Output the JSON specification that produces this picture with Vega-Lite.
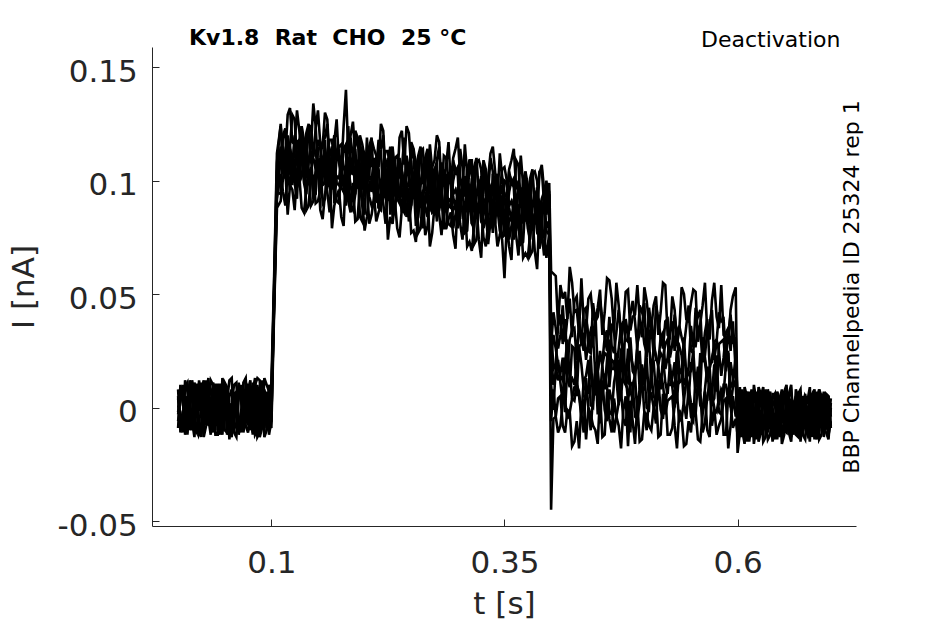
{
  "$schema": "https://vega.github.io/schema/vega-lite/v6.json",
  "width": 704,
  "height": 479,
  "autosize": {"type": "none"},
  "padding": {"left": 152, "top": 47, "right": 89, "bottom": 98},
  "background": "white",
  "title": {
    "text": "Kv1.8\u00a0 Rat\u00a0 CHO\u00a0 25 °C",
    "anchor": "start",
    "frame": "group",
    "dx": 37,
    "offset": -38,
    "baseline": "alphabetic",
    "font": "DejaVu Sans",
    "fontSize": 22,
    "fontWeight": "bold",
    "color": "black"
  },
  "config": {
    "font": "DejaVu Sans",
    "view": {"stroke": null}
  },
  "data": {
    "values": [
      {"t":0.000,"a":0.004,"b":-0.006,"c":0.008,"d":-0.002,"e":0.001,"f":-0.009,"g":0.005,"h":-0.003},
      {"t":0.005,"a":-0.008,"b":0.010,"c":-0.003,"d":0.006,"e":-0.011,"f":0.002,"g":-0.005,"h":0.009},
      {"t":0.010,"a":0.011,"b":-0.004,"c":0.002,"d":-0.010,"e":0.007,"f":0.005,"g":-0.012,"h":0.001},
      {"t":0.015,"a":-0.002,"b":0.007,"c":-0.009,"d":0.012,"e":-0.004,"f":-0.006,"g":0.008,"h":-0.010},
      {"t":0.020,"a":0.006,"b":-0.011,"c":0.010,"d":-0.001,"e":0.009,"f":0.003,"g":-0.002,"h":0.005},
      {"t":0.025,"a":-0.010,"b":0.003,"c":-0.005,"d":0.008,"e":-0.013,"f":0.011,"g":0.004,"h":-0.007},
      {"t":0.030,"a":0.009,"b":-0.008,"c":0.006,"d":-0.007,"e":0.002,"f":-0.004,"g":0.012,"h":0.003},
      {"t":0.035,"a":-0.005,"b":0.012,"c":-0.011,"d":0.004,"e":-0.006,"f":0.008,"g":-0.009,"h":-0.012},
      {"t":0.040,"a":0.003,"b":-0.002,"c":0.009,"d":-0.012,"e":0.010,"f":-0.010,"g":0.001,"h":0.007},
      {"t":0.045,"a":-0.012,"b":0.006,"c":-0.001,"d":0.010,"e":-0.003,"f":0.007,"g":-0.006,"h":-0.004},
      {"t":0.050,"a":0.008,"b":-0.010,"c":0.004,"d":-0.005,"e":0.006,"f":-0.002,"g":0.010,"h":0.011},
      {"t":0.055,"a":-0.003,"b":0.005,"c":-0.014,"d":0.002,"e":-0.009,"f":0.012,"g":-0.004,"h":-0.008},
      {"t":0.060,"a":0.010,"b":-0.007,"c":0.007,"d":-0.008,"e":0.004,"f":-0.011,"g":0.006,"h":0.002},
      {"t":0.065,"a":-0.007,"b":0.011,"c":-0.004,"d":0.009,"e":-0.012,"f":0.004,"g":-0.010,"h":0.008},
      {"t":0.070,"a":0.005,"b":-0.003,"c":0.011,"d":-0.004,"e":0.008,"f":-0.007,"g":0.003,"h":-0.011},
      {"t":0.075,"a":-0.011,"b":0.008,"c":-0.006,"d":0.006,"e":-0.001,"f":0.009,"g":-0.008,"h":0.004},
      {"t":0.080,"a":0.007,"b":-0.012,"c":0.003,"d":-0.011,"e":0.011,"f":-0.003,"g":0.009,"h":-0.006},
      {"t":0.085,"a":-0.004,"b":0.004,"c":-0.010,"d":0.013,"e":-0.007,"f":0.006,"g":-0.013,"h":0.010},
      {"t":0.090,"a":0.012,"b":-0.009,"c":0.005,"d":-0.003,"e":0.003,"f":-0.008,"g":0.007,"h":-0.002},
      {"t":0.095,"a":-0.009,"b":0.002,"c":-0.007,"d":0.007,"e":-0.010,"f":0.010,"g":-0.001,"h":0.006},
      {"t":0.100,"a":0.002,"b":-0.005,"c":0.010,"d":-0.006,"e":0.005,"f":-0.004,"g":0.004,"h":-0.009},
      {"t":0.103,"a":0.055,"b":0.050,"c":0.058,"d":0.047,"e":0.052,"f":0.049,"g":0.045,"h":0.043},
      {"t":0.106,"a":0.108,"b":0.101,"c":0.112,"d":0.097,"e":0.104,"f":0.095,"g":0.092,"h":0.088},
      {"t":0.110,"a":0.125,"b":0.109,"c":0.124,"d":0.108,"e":0.115,"f":0.094,"g":0.103,"h":0.091},
      {"t":0.115,"a":0.111,"b":0.123,"c":0.110,"d":0.122,"e":0.101,"f":0.108,"g":0.089,"h":0.105},
      {"t":0.120,"a":0.132,"b":0.115,"c":0.104,"d":0.115,"e":0.107,"f":0.114,"g":0.096,"h":0.098},
      {"t":0.125,"a":0.116,"b":0.127,"c":0.120,"d":0.099,"e":0.119,"f":0.099,"g":0.109,"h":0.087},
      {"t":0.130,"a":0.122,"b":0.105,"c":0.117,"d":0.118,"e":0.099,"f":0.117,"g":0.100,"h":0.102},
      {"t":0.135,"a":0.106,"b":0.118,"c":0.104,"d":0.106,"e":0.110,"f":0.099,"g":0.109,"h":0.086},
      {"t":0.140,"a":0.125,"b":0.109,"c":0.123,"d":0.100,"e":0.101,"f":0.108,"g":0.089,"h":0.104},
      {"t":0.145,"a":0.111,"b":0.134,"c":0.110,"d":0.117,"e":0.093,"f":0.093,"g":0.102,"h":0.091},
      {"t":0.150,"a":0.131,"b":0.104,"c":0.118,"d":0.109,"e":0.114,"f":0.103,"g":0.091,"h":0.106},
      {"t":0.155,"a":0.115,"b":0.117,"c":0.098,"d":0.102,"e":0.107,"f":0.090,"g":0.111,"h":0.083},
      {"t":0.160,"a":0.127,"b":0.125,"c":0.112,"d":0.098,"e":0.099,"f":0.110,"g":0.095,"h":0.097},
      {"t":0.165,"a":0.102,"b":0.111,"c":0.118,"d":0.111,"e":0.115,"f":0.096,"g":0.102,"h":0.079},
      {"t":0.170,"a":0.127,"b":0.110,"c":0.099,"d":0.110,"e":0.102,"f":0.109,"g":0.091,"h":0.093},
      {"t":0.175,"a":0.104,"b":0.116,"c":0.102,"d":0.104,"e":0.108,"f":0.097,"g":0.107,"h":0.084},
      {"t":0.180,"a":0.140,"b":0.102,"c":0.116,"d":0.107,"e":0.112,"f":0.101,"g":0.089,"h":0.104},
      {"t":0.185,"a":0.120,"b":0.104,"c":0.119,"d":0.103,"e":0.110,"f":0.089,"g":0.098,"h":0.086},
      {"t":0.190,"a":0.111,"b":0.122,"c":0.115,"d":0.094,"e":0.114,"f":0.094,"g":0.104,"h":0.082},
      {"t":0.195,"a":0.120,"b":0.104,"c":0.118,"d":0.095,"e":0.096,"f":0.103,"g":0.084,"h":0.099},
      {"t":0.200,"a":0.110,"b":0.112,"c":0.093,"d":0.097,"e":0.102,"f":0.085,"g":0.106,"h":0.078},
      {"t":0.205,"a":0.103,"b":0.115,"c":0.102,"d":0.114,"e":0.093,"f":0.100,"g":0.081,"h":0.097},
      {"t":0.210,"a":0.114,"b":0.097,"c":0.109,"d":0.110,"e":0.091,"f":0.109,"g":0.092,"h":0.094},
      {"t":0.215,"a":0.106,"b":0.118,"c":0.105,"d":0.112,"e":0.088,"f":0.088,"g":0.097,"h":0.086},
      {"t":0.220,"a":0.122,"b":0.120,"c":0.107,"d":0.093,"e":0.094,"f":0.105,"g":0.090,"h":0.092},
      {"t":0.225,"a":0.097,"b":0.106,"c":0.113,"d":0.106,"e":0.110,"f":0.091,"g":0.097,"h":0.074},
      {"t":0.230,"a":0.115,"b":0.099,"c":0.114,"d":0.098,"e":0.105,"f":0.084,"g":0.093,"h":0.081},
      {"t":0.235,"a":0.099,"b":0.111,"c":0.097,"d":0.099,"e":0.103,"f":0.092,"g":0.102,"h":0.079},
      {"t":0.240,"a":0.122,"b":0.105,"c":0.094,"d":0.105,"e":0.097,"f":0.104,"g":0.086,"h":0.088},
      {"t":0.245,"a":0.124,"b":0.097,"c":0.111,"d":0.102,"e":0.107,"f":0.096,"g":0.084,"h":0.099},
      {"t":0.250,"a":0.106,"b":0.117,"c":0.110,"d":0.089,"e":0.109,"f":0.089,"g":0.099,"h":0.077},
      {"t":0.255,"a":0.105,"b":0.107,"c":0.088,"d":0.092,"e":0.097,"f":0.080,"g":0.101,"h":0.073},
      {"t":0.260,"a":0.115,"b":0.099,"c":0.113,"d":0.090,"e":0.091,"f":0.098,"g":0.079,"h":0.094},
      {"t":0.265,"a":0.098,"b":0.110,"c":0.097,"d":0.109,"e":0.088,"f":0.095,"g":0.076,"h":0.092},
      {"t":0.270,"a":0.094,"b":0.103,"c":0.116,"d":0.103,"e":0.107,"f":0.088,"g":0.094,"h":0.071},
      {"t":0.275,"a":0.109,"b":0.092,"c":0.104,"d":0.105,"e":0.086,"f":0.104,"g":0.087,"h":0.089},
      {"t":0.280,"a":0.117,"b":0.115,"c":0.102,"d":0.088,"e":0.089,"f":0.100,"g":0.085,"h":0.087},
      {"t":0.285,"a":0.099,"b":0.111,"c":0.098,"d":0.105,"e":0.081,"f":0.081,"g":0.090,"h":0.079},
      {"t":0.290,"a":0.117,"b":0.100,"c":0.089,"d":0.100,"e":0.092,"f":0.099,"g":0.081,"h":0.083},
      {"t":0.295,"a":0.110,"b":0.094,"c":0.109,"d":0.093,"e":0.100,"f":0.079,"g":0.088,"h":0.076},
      {"t":0.300,"a":0.119,"b":0.092,"c":0.106,"d":0.097,"e":0.102,"f":0.091,"g":0.079,"h":0.094},
      {"t":0.305,"a":0.094,"b":0.106,"c":0.092,"d":0.094,"e":0.098,"f":0.087,"g":0.097,"h":0.074},
      {"t":0.310,"a":0.103,"b":0.105,"c":0.086,"d":0.090,"e":0.095,"f":0.078,"g":0.099,"h":0.071},
      {"t":0.315,"a":0.098,"b":0.109,"c":0.102,"d":0.081,"e":0.101,"f":0.081,"g":0.091,"h":0.069},
      {"t":0.320,"a":0.110,"b":0.094,"c":0.108,"d":0.085,"e":0.086,"f":0.093,"g":0.074,"h":0.089},
      {"t":0.325,"a":0.089,"b":0.098,"c":0.105,"d":0.098,"e":0.102,"f":0.083,"g":0.089,"h":0.066},
      {"t":0.330,"a":0.093,"b":0.105,"c":0.092,"d":0.104,"e":0.083,"f":0.090,"g":0.071,"h":0.087},
      {"t":0.335,"a":0.112,"b":0.110,"c":0.097,"d":0.083,"e":0.084,"f":0.095,"g":0.080,"h":0.082},
      {"t":0.340,"a":0.104,"b":0.087,"c":0.099,"d":0.100,"e":0.081,"f":0.099,"g":0.082,"h":0.084},
      {"t":0.345,"a":0.112,"b":0.095,"c":0.084,"d":0.095,"e":0.087,"f":0.094,"g":0.076,"h":0.078},
      {"t":0.350,"a":0.094,"b":0.106,"c":0.093,"d":0.100,"e":0.076,"f":0.076,"g":0.085,"h":0.057},
      {"t":0.355,"a":0.105,"b":0.089,"c":0.104,"d":0.088,"e":0.095,"f":0.074,"g":0.083,"h":0.071},
      {"t":0.360,"a":0.114,"b":0.087,"c":0.101,"d":0.092,"e":0.097,"f":0.086,"g":0.074,"h":0.089},
      {"t":0.365,"a":0.096,"b":0.107,"c":0.100,"d":0.079,"e":0.099,"f":0.079,"g":0.089,"h":0.067},
      {"t":0.370,"a":0.098,"b":0.100,"c":0.081,"d":0.085,"e":0.090,"f":0.073,"g":0.094,"h":0.066},
      {"t":0.375,"a":0.086,"b":0.098,"c":0.084,"d":0.086,"e":0.090,"f":0.079,"g":0.089,"h":0.066},
      {"t":0.380,"a":0.105,"b":0.089,"c":0.103,"d":0.080,"e":0.081,"f":0.088,"g":0.069,"h":0.084},
      {"t":0.385,"a":0.084,"b":0.093,"c":0.100,"d":0.093,"e":0.097,"f":0.078,"g":0.084,"h":0.061},
      {"t":0.390,"a":0.107,"b":0.105,"c":0.092,"d":0.078,"e":0.079,"f":0.090,"g":0.075,"h":0.077},
      {"t":0.395,"a":0.088,"b":0.100,"c":0.087,"d":0.099,"e":0.078,"f":0.085,"g":0.066,"h":0.082},
      {"t":0.398,"a":0.099,"b":0.082,"c":0.094,"d":0.095,"e":0.076,"f":0.094,"g":0.077,"h":0.079},
      {"t":0.400,"a":0.060,"b":0.027,"c":0.036,"d":0.023,"e":0.024,"f":0.010,"g":-0.006,"h":-0.045},
      {"t":0.405,"a":0.058,"b":0.035,"c":0.019,"d":0.026,"e":0.014,"f":0.018,"g":-0.004,"h":-0.004},
      {"t":0.410,"a":0.054,"b":0.032,"c":0.041,"d":0.014,"e":0.011,"f":0.015,"g":-0.008,"h":0.005},
      {"t":0.415,"a":0.051,"b":0.029,"c":0.039,"d":0.019,"e":0.022,"f":-0.002,"g":0.003,"h":-0.011},
      {"t":0.420,"a":0.062,"b":0.048,"c":0.030,"d":0.012,"e":0.009,"f":0.017,"g":-0.002,"h":-0.002},
      {"t":0.425,"a":0.042,"b":0.047,"c":0.035,"d":0.010,"e":0.026,"f":0.003,"g":0.009,"h":-0.015},
      {"t":0.430,"a":0.033,"b":0.036,"c":0.038,"d":0.027,"e":0.027,"f":0.005,"g":0.007,"h":-0.018},
      {"t":0.435,"a":0.037,"b":0.043,"c":0.025,"d":0.033,"e":0.008,"f":0.012,"g":-0.011,"h":0.003},
      {"t":0.440,"a":0.048,"b":0.025,"c":0.032,"d":0.029,"e":0.006,"f":0.021,"g":0.000,"h":0.000},
      {"t":0.445,"a":0.040,"b":0.046,"c":0.028,"d":0.031,"e":0.003,"f":0.000,"g":0.005,"h":-0.008},
      {"t":0.450,"a":0.044,"b":0.040,"c":0.016,"d":0.016,"e":0.017,"f":-0.003,"g":0.014,"h":-0.016},
      {"t":0.455,"a":0.032,"b":0.039,"c":0.020,"d":0.018,"e":0.019,"f":0.005,"g":0.012,"h":-0.013},
      {"t":0.460,"a":0.057,"b":0.025,"c":0.034,"d":0.021,"e":0.023,"f":0.009,"g":-0.006,"h":0.007},
      {"t":0.465,"a":0.048,"b":0.027,"c":0.037,"d":0.017,"e":0.021,"f":-0.003,"g":0.003,"h":-0.011},
      {"t":0.470,"a":0.055,"b":0.033,"c":0.017,"d":0.024,"e":0.013,"f":0.017,"g":-0.004,"h":-0.004},
      {"t":0.475,"a":0.030,"b":0.034,"c":0.036,"d":0.025,"e":0.026,"f":0.004,"g":0.007,"h":-0.018},
      {"t":0.480,"a":0.051,"b":0.030,"c":0.039,"d":0.012,"e":0.010,"f":0.014,"g":-0.008,"h":0.005},
      {"t":0.485,"a":0.034,"b":0.041,"c":0.023,"d":0.031,"e":0.007,"f":0.011,"g":-0.011,"h":0.003},
      {"t":0.490,"a":0.041,"b":0.038,"c":0.014,"d":0.014,"e":0.016,"f":-0.004,"g":0.014,"h":-0.016},
      {"t":0.495,"a":0.039,"b":0.045,"c":0.033,"d":0.008,"e":0.025,"f":0.002,"g":0.009,"h":-0.015},
      {"t":0.500,"a":0.053,"b":0.046,"c":0.028,"d":0.010,"e":0.008,"f":0.016,"g":-0.002,"h":-0.002},
      {"t":0.505,"a":0.037,"b":0.044,"c":0.026,"d":0.029,"e":0.002,"f":-0.001,"g":0.005,"h":-0.008},
      {"t":0.510,"a":0.045,"b":0.023,"c":0.030,"d":0.027,"e":0.005,"f":0.020,"g":0.000,"h":0.000},
      {"t":0.515,"a":0.032,"b":0.039,"c":0.020,"d":0.018,"e":0.019,"f":0.005,"g":0.012,"h":-0.013},
      {"t":0.520,"a":0.055,"b":0.026,"c":0.033,"d":0.022,"e":0.022,"f":0.010,"g":-0.005,"h":0.006},
      {"t":0.525,"a":0.032,"b":0.039,"c":0.022,"d":0.030,"e":0.006,"f":0.010,"g":-0.012,"h":0.003},
      {"t":0.530,"a":0.049,"b":0.028,"c":0.038,"d":0.011,"e":0.009,"f":0.013,"g":-0.009,"h":0.005},
      {"t":0.535,"a":0.028,"b":0.032,"c":0.035,"d":0.024,"e":0.025,"f":0.003,"g":0.006,"h":-0.018},
      {"t":0.540,"a":0.053,"b":0.031,"c":0.016,"d":0.023,"e":0.012,"f":0.016,"g":-0.005,"h":-0.004},
      {"t":0.545,"a":0.039,"b":0.036,"c":0.013,"d":0.013,"e":0.015,"f":-0.005,"g":0.013,"h":-0.016},
      {"t":0.550,"a":0.046,"b":0.025,"c":0.036,"d":0.016,"e":0.020,"f":-0.004,"g":0.002,"h":-0.011},
      {"t":0.555,"a":0.051,"b":0.044,"c":0.027,"d":0.009,"e":0.007,"f":0.015,"g":-0.003,"h":-0.002},
      {"t":0.560,"a":0.037,"b":0.043,"c":0.032,"d":0.007,"e":0.024,"f":0.001,"g":0.008,"h":-0.015},
      {"t":0.565,"a":0.055,"b":0.023,"c":0.033,"d":0.020,"e":0.022,"f":0.008,"g":-0.007,"h":0.007},
      {"t":0.570,"a":0.030,"b":0.037,"c":0.019,"d":0.017,"e":0.018,"f":0.004,"g":0.011,"h":-0.013},
      {"t":0.575,"a":0.055,"b":0.021,"c":0.029,"d":0.026,"e":0.004,"f":0.019,"g":-0.001,"h":0.000},
      {"t":0.580,"a":0.035,"b":0.042,"c":0.025,"d":0.028,"e":0.001,"f":-0.002,"g":0.004,"h":-0.008},
      {"t":0.585,"a":0.032,"b":0.039,"c":0.022,"d":0.030,"e":0.006,"f":0.010,"g":-0.012,"h":0.003},
      {"t":0.590,"a":0.028,"b":0.032,"c":0.035,"d":0.024,"e":0.025,"f":0.003,"g":0.006,"h":-0.018},
      {"t":0.595,"a":0.049,"b":0.028,"c":0.038,"d":0.011,"e":0.009,"f":0.013,"g":-0.009,"h":0.005},
      {"t":0.598,"a":0.053,"b":0.031,"c":0.016,"d":0.023,"e":0.012,"f":0.016,"g":-0.005,"h":-0.004},
      {"t":0.600,"a":-0.006,"b":-0.001,"c":-0.020,"d":0.003,"e":-0.009,"f":0.001,"g":-0.012,"h":0.002},
      {"t":0.605,"a":0.006,"b":-0.010,"c":0.001,"d":-0.013,"e":0.004,"f":-0.004,"g":-0.007,"h":0.008},
      {"t":0.610,"a":-0.012,"b":0.004,"c":-0.008,"d":0.005,"e":-0.015,"f":0.007,"g":0.002,"h":-0.009},
      {"t":0.615,"a":0.005,"b":-0.013,"c":0.008,"d":-0.006,"e":0.002,"f":-0.011,"g":-0.003,"h":0.004},
      {"t":0.620,"a":-0.009,"b":0.002,"c":-0.005,"d":0.007,"e":-0.008,"f":0.003,"g":-0.014,"h":-0.002},
      {"t":0.625,"a":0.004,"b":-0.008,"c":-0.012,"d":-0.001,"e":0.006,"f":-0.007,"g":0.005,"h":-0.011},
      {"t":0.630,"a":-0.013,"b":0.006,"c":0.003,"d":-0.010,"e":-0.003,"f":0.008,"g":-0.006,"h":0.001},
      {"t":0.635,"a":0.007,"b":-0.004,"c":-0.009,"d":0.004,"e":-0.012,"f":-0.001,"g":0.003,"h":-0.008},
      {"t":0.640,"a":-0.005,"b":-0.011,"c":0.006,"d":-0.014,"e":0.001,"f":-0.009,"g":-0.010,"h":0.006},
      {"t":0.645,"a":0.003,"b":0.005,"c":-0.003,"d":0.002,"e":-0.006,"f":0.004,"g":-0.001,"h":-0.013},
      {"t":0.650,"a":-0.010,"b":-0.007,"c":0.007,"d":-0.008,"e":0.005,"f":-0.012,"g":0.006,"h":-0.003},
      {"t":0.655,"a":0.006,"b":0.001,"c":-0.011,"d":0.005,"e":-0.010,"f":0.002,"g":-0.009,"h":0.003},
      {"t":0.660,"a":-0.008,"b":-0.012,"c":0.002,"d":-0.004,"e":0.003,"f":-0.005,"g":0.001,"h":-0.010},
      {"t":0.665,"a":0.002,"b":0.004,"c":-0.007,"d":0.006,"e":-0.013,"f":0.007,"g":-0.012,"h":0.005},
      {"t":0.670,"a":-0.011,"b":-0.003,"c":0.005,"d":-0.012,"e":0.000,"f":-0.008,"g":0.004,"h":-0.006},
      {"t":0.675,"a":0.005,"b":-0.009,"c":-0.002,"d":0.001,"e":-0.007,"f":0.003,"g":-0.005,"h":-0.012},
      {"t":0.680,"a":-0.007,"b":0.006,"c":-0.010,"d":-0.005,"e":0.004,"f":-0.013,"g":0.002,"h":0.002},
      {"t":0.685,"a":0.004,"b":-0.014,"c":0.003,"d":0.007,"e":-0.011,"f":0.000,"g":-0.008,"h":-0.007},
      {"t":0.690,"a":-0.012,"b":0.001,"c":-0.006,"d":-0.009,"e":0.006,"f":-0.004,"g":0.005,"h":0.001},
      {"t":0.695,"a":0.003,"b":-0.006,"c":0.006,"d":-0.002,"e":-0.004,"f":0.005,"g":-0.011,"h":-0.009},
      {"t":0.700,"a":-0.006,"b":0.002,"c":-0.009,"d":0.004,"e":-0.008,"f":-0.002,"g":0.000,"h":-0.004},
      {"t":0.0025,"a":-0.007,"b":0.003,"c":-0.011,"d":0.008,"e":-0.002,"f":0.010,"g":-0.006,"h":0.004},
      {"t":0.0075,"a":0.009,"b":-0.006,"c":0.005,"d":-0.009,"e":0.012,"f":-0.005,"g":0.003,"h":-0.012},
      {"t":0.0125,"a":-0.003,"b":0.012,"c":-0.008,"d":-0.004,"e":-0.010,"f":0.002,"g":0.009,"h":-0.001},
      {"t":0.0175,"a":0.011,"b":-0.009,"c":0.001,"d":0.006,"e":0.004,"f":-0.013,"g":-0.004,"h":0.007},
      {"t":0.0225,"a":-0.012,"b":0.007,"c":0.010,"d":-0.001,"e":-0.006,"f":0.005,"g":0.012,"h":-0.009},
      {"t":0.0275,"a":0.004,"b":-0.013,"c":-0.003,"d":0.012,"e":0.008,"f":-0.008,"g":-0.011,"h":0.002},
      {"t":0.0325,"a":-0.008,"b":0.001,"c":0.013,"d":-0.007,"e":0.001,"f":0.011,"g":0.005,"h":-0.005},
      {"t":0.0375,"a":0.006,"b":0.010,"c":-0.006,"d":0.003,"e":-0.011,"f":-0.002,"g":-0.008,"h":0.011},
      {"t":0.0425,"a":-0.001,"b":-0.004,"c":0.004,"d":-0.012,"e":0.010,"f":0.007,"g":-0.002,"h":-0.007},
      {"t":0.0475,"a":0.013,"b":0.005,"c":-0.012,"d":0.010,"e":-0.005,"f":-0.010,"g":0.007,"h":0.000},
      {"t":0.0525,"a":-0.010,"b":-0.011,"c":0.007,"d":-0.003,"e":0.006,"f":0.003,"g":-0.012,"h":0.009},
      {"t":0.0575,"a":0.002,"b":0.008,"c":-0.001,"d":-0.010,"e":-0.013,"f":0.013,"g":0.001,"h":-0.003},
      {"t":0.0625,"a":0.011,"b":-0.009,"c":0.001,"d":0.006,"e":0.004,"f":-0.013,"g":-0.004,"h":0.007},
      {"t":0.0675,"a":-0.007,"b":0.003,"c":-0.011,"d":0.008,"e":-0.002,"f":0.010,"g":-0.006,"h":0.004},
      {"t":0.0725,"a":-0.008,"b":0.001,"c":0.013,"d":-0.007,"e":0.001,"f":0.011,"g":0.005,"h":-0.005},
      {"t":0.0775,"a":-0.003,"b":0.012,"c":-0.008,"d":-0.004,"e":-0.010,"f":0.002,"g":0.009,"h":-0.001},
      {"t":0.0825,"a":0.013,"b":0.005,"c":-0.012,"d":0.010,"e":-0.005,"f":-0.010,"g":0.007,"h":0.000},
      {"t":0.0875,"a":0.004,"b":-0.013,"c":-0.003,"d":0.012,"e":0.008,"f":-0.008,"g":-0.011,"h":0.002},
      {"t":0.0925,"a":0.002,"b":0.008,"c":-0.001,"d":-0.010,"e":-0.013,"f":0.013,"g":0.001,"h":-0.003},
      {"t":0.0975,"a":-0.001,"b":-0.004,"c":0.004,"d":-0.012,"e":0.010,"f":0.007,"g":-0.002,"h":-0.007},
      {"t":0.1125,"a":0.113,"b":0.120,"c":0.103,"d":0.119,"e":0.106,"f":0.115,"g":0.095,"h":0.101},
      {"t":0.1175,"a":0.129,"b":0.111,"c":0.119,"d":0.102,"e":0.120,"f":0.100,"g":0.104,"h":0.085},
      {"t":0.1225,"a":0.117,"b":0.129,"c":0.106,"d":0.107,"e":0.098,"f":0.107,"g":0.110,"h":0.096},
      {"t":0.1275,"a":0.131,"b":0.108,"c":0.115,"d":0.117,"e":0.112,"f":0.092,"g":0.097,"h":0.104},
      {"t":0.1325,"a":0.108,"b":0.124,"c":0.124,"d":0.110,"e":0.102,"f":0.110,"g":0.113,"h":0.088},
      {"t":0.1375,"a":0.121,"b":0.101,"c":0.108,"d":0.120,"e":0.113,"f":0.094,"g":0.087,"h":0.096},
      {"t":0.1425,"a":0.109,"b":0.115,"c":0.124,"d":0.101,"e":0.106,"f":0.113,"g":0.103,"h":0.089},
      {"t":0.1475,"a":0.123,"b":0.124,"c":0.105,"d":0.111,"e":0.094,"f":0.100,"g":0.090,"h":0.105},
      {"t":0.1525,"a":0.116,"b":0.110,"c":0.115,"d":0.096,"e":0.115,"f":0.109,"g":0.096,"h":0.087},
      {"t":0.1575,"a":0.130,"b":0.119,"c":0.099,"d":0.118,"e":0.100,"f":0.092,"g":0.105,"h":0.094},
      {"t":0.1625,"a":0.107,"b":0.103,"c":0.118,"d":0.105,"e":0.111,"f":0.105,"g":0.086,"h":0.103},
      {"t":0.1675,"a":0.117,"b":0.120,"c":0.108,"d":0.096,"e":0.090,"f":0.113,"g":0.097,"h":0.089},
      {"t":0.1725,"a":0.108,"b":0.115,"c":0.098,"d":0.114,"e":0.101,"f":0.110,"g":0.090,"h":0.096},
      {"t":0.1775,"a":0.124,"b":0.106,"c":0.114,"d":0.097,"e":0.115,"f":0.095,"g":0.099,"h":0.080},
      {"t":0.1825,"a":0.112,"b":0.124,"c":0.101,"d":0.102,"e":0.093,"f":0.102,"g":0.105,"h":0.091},
      {"t":0.1875,"a":0.126,"b":0.103,"c":0.110,"d":0.112,"e":0.107,"f":0.087,"g":0.092,"h":0.099},
      {"t":0.1925,"a":0.103,"b":0.119,"c":0.119,"d":0.105,"e":0.097,"f":0.105,"g":0.108,"h":0.083},
      {"t":0.1975,"a":0.116,"b":0.096,"c":0.103,"d":0.115,"e":0.108,"f":0.089,"g":0.082,"h":0.091},
      {"t":0.2025,"a":0.104,"b":0.110,"c":0.119,"d":0.096,"e":0.101,"f":0.108,"g":0.098,"h":0.084},
      {"t":0.2075,"a":0.118,"b":0.119,"c":0.100,"d":0.106,"e":0.089,"f":0.095,"g":0.085,"h":0.100},
      {"t":0.2125,"a":0.111,"b":0.105,"c":0.110,"d":0.091,"e":0.110,"f":0.104,"g":0.091,"h":0.082},
      {"t":0.2175,"a":0.125,"b":0.114,"c":0.094,"d":0.113,"e":0.095,"f":0.087,"g":0.100,"h":0.089},
      {"t":0.2225,"a":0.102,"b":0.098,"c":0.113,"d":0.100,"e":0.106,"f":0.100,"g":0.081,"h":0.098},
      {"t":0.2275,"a":0.112,"b":0.115,"c":0.103,"d":0.091,"e":0.085,"f":0.108,"g":0.092,"h":0.084},
      {"t":0.2325,"a":0.103,"b":0.110,"c":0.093,"d":0.109,"e":0.096,"f":0.105,"g":0.085,"h":0.091},
      {"t":0.2375,"a":0.119,"b":0.101,"c":0.109,"d":0.092,"e":0.110,"f":0.090,"g":0.094,"h":0.075},
      {"t":0.2425,"a":0.107,"b":0.119,"c":0.096,"d":0.097,"e":0.088,"f":0.097,"g":0.100,"h":0.086},
      {"t":0.2475,"a":0.121,"b":0.098,"c":0.105,"d":0.107,"e":0.102,"f":0.082,"g":0.087,"h":0.094},
      {"t":0.2525,"a":0.098,"b":0.114,"c":0.114,"d":0.100,"e":0.092,"f":0.100,"g":0.103,"h":0.078},
      {"t":0.2575,"a":0.111,"b":0.091,"c":0.098,"d":0.110,"e":0.103,"f":0.084,"g":0.077,"h":0.086},
      {"t":0.2625,"a":0.099,"b":0.105,"c":0.114,"d":0.091,"e":0.096,"f":0.103,"g":0.093,"h":0.079},
      {"t":0.2675,"a":0.113,"b":0.114,"c":0.095,"d":0.101,"e":0.084,"f":0.090,"g":0.080,"h":0.095},
      {"t":0.2725,"a":0.106,"b":0.100,"c":0.105,"d":0.086,"e":0.105,"f":0.099,"g":0.086,"h":0.077},
      {"t":0.2775,"a":0.120,"b":0.109,"c":0.089,"d":0.108,"e":0.090,"f":0.082,"g":0.095,"h":0.084},
      {"t":0.2825,"a":0.097,"b":0.093,"c":0.108,"d":0.095,"e":0.101,"f":0.095,"g":0.076,"h":0.093},
      {"t":0.2875,"a":0.107,"b":0.110,"c":0.098,"d":0.086,"e":0.080,"f":0.103,"g":0.087,"h":0.079},
      {"t":0.2925,"a":0.098,"b":0.105,"c":0.088,"d":0.104,"e":0.091,"f":0.100,"g":0.080,"h":0.086},
      {"t":0.2975,"a":0.114,"b":0.096,"c":0.104,"d":0.087,"e":0.105,"f":0.085,"g":0.089,"h":0.070},
      {"t":0.3025,"a":0.102,"b":0.114,"c":0.091,"d":0.092,"e":0.083,"f":0.092,"g":0.095,"h":0.081},
      {"t":0.3075,"a":0.116,"b":0.093,"c":0.100,"d":0.102,"e":0.097,"f":0.077,"g":0.082,"h":0.089},
      {"t":0.3125,"a":0.093,"b":0.109,"c":0.109,"d":0.095,"e":0.087,"f":0.095,"g":0.098,"h":0.073},
      {"t":0.3175,"a":0.106,"b":0.086,"c":0.093,"d":0.105,"e":0.098,"f":0.079,"g":0.072,"h":0.081},
      {"t":0.3225,"a":0.094,"b":0.100,"c":0.109,"d":0.086,"e":0.091,"f":0.098,"g":0.088,"h":0.074},
      {"t":0.3275,"a":0.108,"b":0.109,"c":0.090,"d":0.096,"e":0.079,"f":0.085,"g":0.075,"h":0.090},
      {"t":0.3325,"a":0.101,"b":0.095,"c":0.100,"d":0.081,"e":0.100,"f":0.094,"g":0.081,"h":0.072},
      {"t":0.3375,"a":0.115,"b":0.104,"c":0.084,"d":0.103,"e":0.085,"f":0.077,"g":0.090,"h":0.079},
      {"t":0.3425,"a":0.092,"b":0.088,"c":0.103,"d":0.090,"e":0.096,"f":0.090,"g":0.071,"h":0.088},
      {"t":0.3475,"a":0.102,"b":0.105,"c":0.093,"d":0.081,"e":0.075,"f":0.098,"g":0.082,"h":0.074},
      {"t":0.3525,"a":0.093,"b":0.100,"c":0.083,"d":0.099,"e":0.086,"f":0.095,"g":0.075,"h":0.081},
      {"t":0.3575,"a":0.109,"b":0.091,"c":0.099,"d":0.082,"e":0.100,"f":0.080,"g":0.084,"h":0.065},
      {"t":0.3625,"a":0.097,"b":0.109,"c":0.086,"d":0.087,"e":0.078,"f":0.087,"g":0.090,"h":0.076},
      {"t":0.3675,"a":0.111,"b":0.088,"c":0.095,"d":0.097,"e":0.092,"f":0.072,"g":0.077,"h":0.084},
      {"t":0.3725,"a":0.088,"b":0.104,"c":0.104,"d":0.090,"e":0.082,"f":0.090,"g":0.093,"h":0.068},
      {"t":0.3775,"a":0.101,"b":0.081,"c":0.088,"d":0.100,"e":0.093,"f":0.074,"g":0.067,"h":0.076},
      {"t":0.3825,"a":0.089,"b":0.095,"c":0.104,"d":0.081,"e":0.086,"f":0.093,"g":0.083,"h":0.069},
      {"t":0.3875,"a":0.103,"b":0.104,"c":0.085,"d":0.091,"e":0.074,"f":0.080,"g":0.070,"h":0.085},
      {"t":0.3925,"a":0.096,"b":0.090,"c":0.095,"d":0.076,"e":0.095,"f":0.089,"g":0.076,"h":0.067},
      {"t":0.4025,"a":0.059,"b":0.042,"c":0.017,"d":0.032,"e":0.010,"f":-0.001,"g":0.008,"h":-0.005},
      {"t":0.4075,"a":0.036,"b":0.026,"c":0.036,"d":0.019,"e":0.021,"f":0.012,"g":-0.011,"h":0.004},
      {"t":0.4125,"a":0.048,"b":0.045,"c":0.028,"d":0.012,"e":0.002,"f":0.022,"g":0.002,"h":-0.008},
      {"t":0.4175,"a":0.039,"b":0.040,"c":0.018,"d":0.030,"e":0.013,"f":0.019,"g":-0.005,"h":-0.001},
      {"t":0.4225,"a":0.055,"b":0.031,"c":0.034,"d":0.013,"e":0.027,"f":0.004,"g":0.004,"h":-0.017},
      {"t":0.4275,"a":0.043,"b":0.049,"c":0.021,"d":0.018,"e":0.005,"f":0.011,"g":0.010,"h":-0.006},
      {"t":0.4325,"a":0.057,"b":0.028,"c":0.030,"d":0.028,"e":0.019,"f":-0.004,"g":-0.003,"h":0.002},
      {"t":0.4375,"a":0.034,"b":0.044,"c":0.039,"d":0.021,"e":0.009,"f":0.014,"g":0.013,"h":-0.014},
      {"t":0.4425,"a":0.050,"b":0.024,"c":0.026,"d":0.034,"e":0.023,"f":0.001,"g":-0.010,"h":-0.003},
      {"t":0.4475,"a":0.038,"b":0.038,"c":0.042,"d":0.015,"e":0.016,"f":0.020,"g":0.006,"h":-0.010},
      {"t":0.4525,"a":0.052,"b":0.047,"c":0.023,"d":0.025,"e":0.004,"f":0.007,"g":-0.007,"h":0.006},
      {"t":0.4575,"a":0.042,"b":0.031,"c":0.031,"d":0.008,"e":0.024,"f":0.015,"g":-0.001,"h":-0.012},
      {"t":0.4625,"a":0.056,"b":0.040,"c":0.015,"d":0.030,"e":0.009,"f":-0.002,"g":0.008,"h":-0.005},
      {"t":0.4675,"a":0.033,"b":0.024,"c":0.034,"d":0.017,"e":0.020,"f":0.011,"g":-0.011,"h":0.004},
      {"t":0.4725,"a":0.045,"b":0.043,"c":0.026,"d":0.010,"e":0.001,"f":0.021,"g":0.002,"h":-0.008},
      {"t":0.4775,"a":0.036,"b":0.038,"c":0.016,"d":0.028,"e":0.012,"f":0.018,"g":-0.005,"h":-0.001},
      {"t":0.4825,"a":0.052,"b":0.029,"c":0.032,"d":0.011,"e":0.026,"f":0.003,"g":0.004,"h":-0.017},
      {"t":0.4875,"a":0.040,"b":0.047,"c":0.019,"d":0.016,"e":0.004,"f":0.010,"g":0.010,"h":-0.006},
      {"t":0.4925,"a":0.054,"b":0.026,"c":0.028,"d":0.026,"e":0.018,"f":-0.005,"g":-0.003,"h":0.002},
      {"t":0.4975,"a":0.031,"b":0.042,"c":0.037,"d":0.019,"e":0.008,"f":0.013,"g":0.013,"h":-0.014},
      {"t":0.5025,"a":0.047,"b":0.022,"c":0.024,"d":0.032,"e":0.022,"f":0.000,"g":-0.010,"h":-0.003},
      {"t":0.5075,"a":0.035,"b":0.036,"c":0.040,"d":0.013,"e":0.015,"f":0.019,"g":0.006,"h":-0.010},
      {"t":0.5125,"a":0.049,"b":0.045,"c":0.021,"d":0.023,"e":0.003,"f":0.006,"g":-0.007,"h":0.006},
      {"t":0.5175,"a":0.042,"b":0.031,"c":0.031,"d":0.008,"e":0.024,"f":0.015,"g":-0.001,"h":-0.012},
      {"t":0.5225,"a":0.054,"b":0.038,"c":0.017,"d":0.028,"e":0.011,"f":0.000,"g":0.006,"h":-0.003},
      {"t":0.5275,"a":0.031,"b":0.022,"c":0.033,"d":0.016,"e":0.019,"f":0.010,"g":-0.012,"h":0.004},
      {"t":0.5325,"a":0.043,"b":0.041,"c":0.025,"d":0.009,"e":0.000,"f":0.020,"g":0.001,"h":-0.008},
      {"t":0.5375,"a":0.034,"b":0.036,"c":0.015,"d":0.027,"e":0.011,"f":0.017,"g":-0.006,"h":-0.001},
      {"t":0.5425,"a":0.050,"b":0.027,"c":0.031,"d":0.010,"e":0.025,"f":0.002,"g":0.003,"h":-0.017},
      {"t":0.5475,"a":0.038,"b":0.045,"c":0.018,"d":0.015,"e":0.003,"f":0.009,"g":0.009,"h":-0.006},
      {"t":0.5525,"a":0.052,"b":0.024,"c":0.027,"d":0.025,"e":0.017,"f":-0.006,"g":-0.004,"h":0.002},
      {"t":0.5575,"a":0.029,"b":0.040,"c":0.036,"d":0.018,"e":0.007,"f":0.012,"g":0.012,"h":-0.014},
      {"t":0.5625,"a":0.045,"b":0.020,"c":0.023,"d":0.031,"e":0.021,"f":-0.001,"g":-0.011,"h":-0.003},
      {"t":0.5675,"a":0.033,"b":0.034,"c":0.039,"d":0.012,"e":0.014,"f":0.018,"g":0.005,"h":-0.010},
      {"t":0.5725,"a":0.047,"b":0.043,"c":0.020,"d":0.022,"e":0.002,"f":0.005,"g":-0.008,"h":0.006},
      {"t":0.5775,"a":0.040,"b":0.029,"c":0.030,"d":0.007,"e":0.023,"f":0.014,"g":-0.002,"h":-0.012},
      {"t":0.5825,"a":0.054,"b":0.038,"c":0.014,"d":0.029,"e":0.008,"f":-0.003,"g":0.007,"h":-0.005},
      {"t":0.5875,"a":0.031,"b":0.022,"c":0.033,"d":0.016,"e":0.019,"f":0.010,"g":-0.012,"h":0.004},
      {"t":0.5925,"a":0.043,"b":0.041,"c":0.025,"d":0.009,"e":0.000,"f":0.020,"g":0.001,"h":-0.008},
      {"t":0.6025,"a":-0.006,"b":0.009,"c":-0.011,"d":-0.007,"e":-0.013,"f":-0.001,"g":0.006,"h":-0.004},
      {"t":0.6075,"a":0.001,"b":-0.016,"c":-0.006,"d":0.009,"e":0.005,"f":-0.011,"g":-0.014,"h":-0.001},
      {"t":0.6125,"a":-0.004,"b":-0.007,"c":0.001,"d":-0.015,"e":0.007,"f":0.004,"g":-0.005,"h":-0.010},
      {"t":0.6175,"a":-0.001,"b":0.005,"c":-0.004,"d":-0.013,"e":-0.016,"f":0.010,"g":-0.002,"h":-0.006},
      {"t":0.6225,"a":0.006,"b":-0.009,"c":0.002,"d":-0.012,"e":0.009,"f":-0.008,"g":0.000,"h":-0.015},
      {"t":0.6275,"a":-0.015,"b":0.004,"c":0.007,"d":-0.004,"e":-0.009,"f":0.002,"g":0.009,"h":-0.012},
      {"t":0.6325,"a":0.003,"b":0.007,"c":-0.009,"d":0.000,"e":-0.014,"f":-0.005,"g":-0.011,"h":0.008},
      {"t":0.6375,"a":-0.013,"b":-0.014,"c":0.004,"d":-0.006,"e":0.003,"f":0.000,"g":-0.015,"h":0.006},
      {"t":0.6425,"a":-0.010,"b":0.000,"c":-0.014,"d":0.005,"e":-0.005,"f":0.007,"g":-0.009,"h":0.001},
      {"t":0.6475,"a":0.008,"b":-0.012,"c":-0.002,"d":0.003,"e":0.001,"f":-0.016,"g":-0.007,"h":0.004},
      {"t":0.6525,"a":-0.011,"b":-0.002,"c":0.010,"d":-0.010,"e":-0.002,"f":0.008,"g":0.002,"h":-0.008},
      {"t":0.6575,"a":0.010,"b":0.002,"c":-0.015,"d":0.007,"e":-0.008,"f":-0.013,"g":0.004,"h":-0.003},
      {"t":0.6625,"a":-0.005,"b":0.008,"c":-0.012,"d":-0.006,"e":-0.012,"f":0.000,"g":0.005,"h":-0.005},
      {"t":0.6675,"a":0.002,"b":-0.015,"c":-0.007,"d":0.008,"e":0.006,"f":-0.010,"g":-0.013,"h":0.000},
      {"t":0.6725,"a":-0.003,"b":-0.008,"c":0.002,"d":-0.014,"e":0.006,"f":0.005,"g":-0.006,"h":-0.009},
      {"t":0.6775,"a":0.000,"b":0.004,"c":-0.005,"d":-0.012,"e":-0.015,"f":0.009,"g":-0.001,"h":-0.007},
      {"t":0.6825,"a":0.005,"b":-0.010,"c":0.003,"d":-0.011,"e":0.008,"f":-0.007,"g":0.001,"h":-0.014},
      {"t":0.6875,"a":-0.014,"b":0.003,"c":0.008,"d":-0.005,"e":-0.010,"f":0.003,"g":0.008,"h":-0.011},
      {"t":0.6925,"a":0.004,"b":0.006,"c":-0.010,"d":0.001,"e":-0.013,"f":-0.004,"g":-0.010,"h":0.007},
      {"t":0.6975,"a":-0.012,"b":-0.013,"c":0.005,"d":-0.007,"e":0.002,"f":-0.001,"g":-0.014,"h":0.005}
    ]
  },
  "transform": [
    {"fold": ["a", "b", "c", "d", "e", "f", "g", "h"], "as": ["sweep", "I"]}
  ],
  "layer": [
    {
      "mark": {"type": "line", "color": "black", "strokeWidth": 2.6, "strokeJoin": "miter"},
      "encoding": {
        "x": {
          "field": "t",
          "type": "quantitative",
          "scale": {"domain": [-0.028, 0.727], "nice": false, "zero": false},
          "axis": {
            "orient": "bottom",
            "values": [0.1, 0.35, 0.6],
            "labelExpr": "'' + datum.value",
            "grid": false,
            "domainColor": "#262626",
            "tickColor": "#262626",
            "tickSize": -7,
            "labelFontSize": 31,
            "labelColor": "#262626",
            "labelBaseline": "alphabetic",
            "labelPadding": 53.6,
            "title": "t [s]",
            "titleFontSize": 31,
            "titleFontWeight": "normal",
            "titleColor": "#262626",
            "titleX": 352,
            "titleY": 87,
            "titleBaseline": "alphabetic",
            "titleAlign": "center"
          }
        },
        "y": {
          "field": "I",
          "type": "quantitative",
          "scale": {"domain": [-0.0522, 0.1589], "nice": false, "zero": false},
          "axis": {
            "orient": "left",
            "values": [-0.05, 0, 0.05, 0.1, 0.15],
            "labelExpr": "'' + datum.value",
            "grid": false,
            "domainColor": "#262626",
            "tickColor": "#262626",
            "tickSize": -7,
            "labelFontSize": 31,
            "labelColor": "#262626",
            "labelBaseline": "alphabetic",
            "labelOffset": 14,
            "labelPadding": 21.7,
            "title": "I [nA]",
            "titleFontSize": 31,
            "titleFontWeight": "normal",
            "titleColor": "#262626",
            "titleAngle": 270,
            "titleX": -119,
            "titleY": 239.5,
            "titleBaseline": "alphabetic",
            "titleAlign": "center"
          }
        },
        "detail": {"field": "sweep", "type": "nominal"}
      }
    },
    {
      "mark": {"type": "line", "opacity": 0},
      "encoding": {
        "x": {
          "field": "t",
          "type": "quantitative",
          "axis": {
            "orient": "top",
            "domain": false,
            "ticks": false,
            "labels": false,
            "grid": false,
            "title": "Deactivation",
            "titleFontSize": 22,
            "titleFontWeight": "normal",
            "titleColor": "black",
            "titleX": 688,
            "titleY": -0.5,
            "titleAlign": "right",
            "titleBaseline": "alphabetic"
          }
        },
        "y": {
          "field": "I",
          "type": "quantitative",
          "axis": {
            "orient": "right",
            "domain": false,
            "ticks": false,
            "labels": false,
            "grid": false,
            "title": "BBP Channelpedia ID 25324 rep 1",
            "titleFontSize": 22,
            "titleFontWeight": "normal",
            "titleColor": "black",
            "titleAngle": 270,
            "titleX": 2,
            "titleY": 239.5,
            "titleAlign": "center",
            "titleBaseline": "alphabetic"
          }
        },
        "detail": {"field": "sweep", "type": "nominal"}
      }
    }
  ],
  "resolve": {"axis": {"x": "independent", "y": "independent"}}
}
